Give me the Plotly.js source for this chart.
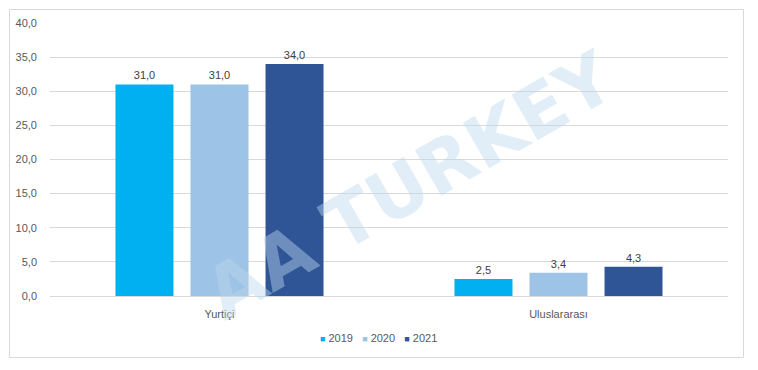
<!DOCTYPE html>
<html>
<head>
<meta charset="utf-8">
<script src="https://cdn.plot.ly/plotly-3.0.1.min.js"></script>
<style>html,body{margin:0;padding:0;background:#fff;}#chart{width:758px;height:370px;}</style>
</head>
<body>
<div id="chart"></div>
<script>
const categories = ['Yurtiçi', 'Uluslararası'];
const seriesNames = ['2019', '2020', '2021'];
const values2019 = [31.0, 2.5];
const values2020 = [31.0, 3.4];
const values2021 = [34.0, 4.3];
const yTickVals = [0, 5, 10, 15, 20, 25, 30, 35, 40];
const colors = ['#00B0F0', '#9DC3E6', '#2F5597'];
const allValues = [values2019, values2020, values2021];

const traces = allValues.map((vals, i) => ({
  type: 'bar',
  name: seriesNames[i],
  x: categories,
  y: vals,
  marker: {color: colors[i]},
  texttemplate: '%{y:.1f}',
  textposition: 'outside',
  textfont: {family: 'Liberation Sans, Arial, sans-serif', size: 11, color: '#404040'},
  cliponaxis: false,
  hoverinfo: 'none',
  showlegend: false
}));

const L = 50, R = 30, T = 23, B = 74, W = 758, H = 370;
const pw = W - L - R, ph = H - T - B;
const px = v => (v - L) / pw;
const py = v => (H - B - v) / ph;

const legendText = seriesNames.map((n, i) =>
  '<span style="color:' + colors[i] + ';font-size:9px">■</span> ' + n).join('   ');

const layout = {
  width: W, height: H,
  margin: {l: L, r: R, t: T, b: B, pad: 0},
  paper_bgcolor: '#ffffff',
  plot_bgcolor: '#ffffff',
  separators: ',.',
  barmode: 'group',
  bargap: 0.336,
  bargroupgap: 0.227,
  font: {family: 'Liberation Sans, Arial, sans-serif', size: 11, color: '#595959'},
  xaxis: {
    type: 'category',
    showgrid: false,
    showline: true, linecolor: '#d9d9d9', linewidth: 1,
    ticks: '', tickfont: {size: 11, color: '#595959'},
    ticklabelstandoff: 8
  },
  yaxis: {
    range: [0, 40],
    tickvals: yTickVals,
    tickformat: '.1f',
    showgrid: true, gridcolor: '#d9d9d9', gridwidth: 1,
    zeroline: false, showline: false,
    ticks: '', tickfont: {size: 11, color: '#595959'},
    ticklabelstandoff: 12
  },
  showlegend: false,
  shapes: [{
    type: 'rect', xref: 'paper', yref: 'paper',
    x0: px(9.5), x1: px(743.5), y0: py(357.5), y1: py(9.5),
    line: {color: '#d9d9d9', width: 1}, fillcolor: 'rgba(0,0,0,0)', layer: 'below'
  }],
  annotations: [{
    xref: 'paper', yref: 'paper',
    x: px(410), y: py(185), xanchor: 'center', yanchor: 'middle',
    text: 'AA TURKEY', showarrow: false, textangle: -30,
    font: {family: 'DejaVu Sans, sans-serif', size: 72, color: 'rgba(189,215,238,0.45)', weight: 'bold'}
  }, {
    xref: 'paper', yref: 'paper',
    x: px(378), y: py(338), xanchor: 'center', yanchor: 'middle',
    text: legendText, showarrow: false,
    font: {family: 'Liberation Sans, Arial, sans-serif', size: 11, color: '#595959'}
  }]
};

Plotly.newPlot('chart', traces, layout, {staticPlot: true, displayModeBar: false});
</script>
</body>
</html>
